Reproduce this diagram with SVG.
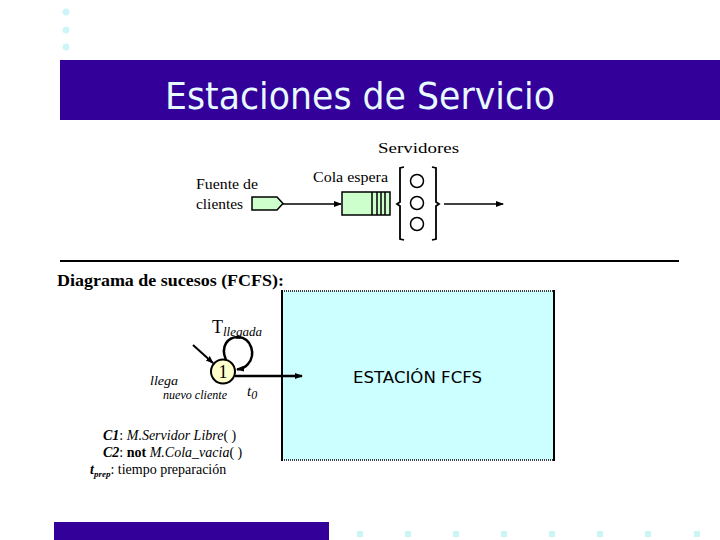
<svg xmlns="http://www.w3.org/2000/svg" width="720" height="540" viewBox="0 0 720 540">
<style>
.serif{font-family:"Liberation Serif","DejaVu Serif",serif;fill:#000}
.sans{font-family:"DejaVu Sans","Liberation Sans",sans-serif;fill:#000}
.ln{stroke:#000;fill:none}
.dot{fill:#CCF5F8}
</style>
<defs>
<marker id="ah" markerWidth="8" markerHeight="8" refX="7" refY="4" orient="auto" markerUnits="userSpaceOnUse">
<path d="M0,1 L8,4 L0,7 z" fill="#000"/>
</marker>
</defs>
<rect width="720" height="540" fill="#fff"/>
<g id="decor">
<circle class="dot" cx="66" cy="12" r="3.5"/>
<circle class="dot" cx="66" cy="30" r="3.5"/>
<circle class="dot" cx="66" cy="47" r="3.5"/>
<rect x="60" y="60" width="660" height="60" fill="#330099"/>
<text x="165" y="109" font-family="'DejaVu Sans','Liberation Sans',sans-serif" font-size="38" fill="#E6FAFF" textLength="390" lengthAdjust="spacingAndGlyphs">Estaciones de Servicio</text>
<rect x="54" y="522" width="275" height="18" fill="#330099"/>
<rect class="dot" x="357" y="531" width="6" height="6"/>
<rect class="dot" x="405" y="531" width="6" height="6"/>
<rect class="dot" x="453" y="531" width="6" height="6"/>
<rect class="dot" x="501" y="531" width="6" height="6"/>
<rect class="dot" x="549" y="531" width="6" height="6"/>
<rect class="dot" x="597" y="531" width="6" height="6"/>
<rect class="dot" x="645" y="531" width="6" height="6"/>
<rect class="dot" x="694" y="531" width="6" height="6"/>
</g>
<g id="fuente">
<text class="serif" x="196" y="189" font-size="15" textLength="62" lengthAdjust="spacingAndGlyphs">Fuente de</text>
<text class="serif" x="196" y="209" font-size="15" textLength="47" lengthAdjust="spacingAndGlyphs">clientes</text>
<path d="M252,197 L277,197 L283,203.5 L277,210 L252,210 z" fill="#CCFFCC" stroke="#000" stroke-width="1.5"/>
</g>
<g id="cola">
<text class="serif" x="313" y="182" font-size="15" textLength="75" lengthAdjust="spacingAndGlyphs">Cola espera</text>
<rect x="342" y="192" width="48" height="23" fill="#CCFFCC" stroke="#000" stroke-width="1.5"/>
<path class="ln" stroke-width="1.5" d="M372,192V215M377,192V215M381,192V215M385,192V215"/>
</g>
<g id="servidores">
<text class="serif" x="378" y="153" font-size="15" textLength="81" lengthAdjust="spacingAndGlyphs">Servidores</text>
<path class="ln" stroke-width="1.8" d="M404,167 L400,168 L400,202 L397,204 L400,206 L400,239 L404,240"/>
<path class="ln" stroke-width="1.8" d="M432,167 L436,168 L436,202 L439,204 L436,206 L436,239 L432,240"/>
<circle cx="417" cy="181" r="6.5" fill="#fff" stroke="#000" stroke-width="1.5"/>
<circle cx="417" cy="203" r="6.5" fill="#fff" stroke="#000" stroke-width="1.5"/>
<circle cx="417" cy="224" r="6.5" fill="#fff" stroke="#000" stroke-width="1.5"/>
</g>
<g id="separador">
<line x1="60" y1="261" x2="679" y2="261" stroke="#000" stroke-width="2"/>
<text class="serif" x="57" y="286" font-size="17" font-weight="bold" textLength="227" lengthAdjust="spacingAndGlyphs">Diagrama de sucesos (FCFS):</text>
</g>
<g id="estacion">
<rect x="282" y="291" width="272" height="169" fill="#CCFFFF"/>
<line x1="282" y1="291" x2="554" y2="291" stroke="#000" stroke-width="1.5" stroke-dasharray="1,1"/>
<line x1="282" y1="460" x2="554" y2="460" stroke="#000" stroke-width="1.5" stroke-dasharray="1,1"/>
<line x1="282" y1="290" x2="282" y2="461" stroke="#000" stroke-width="2"/>
<line x1="554" y1="290" x2="554" y2="461" stroke="#000" stroke-width="2"/>
<text class="sans" x="353" y="383" font-size="15" textLength="129" lengthAdjust="spacingAndGlyphs">ESTACIÓN FCFS</text>
</g>
<g id="nodo1">
<circle cx="223" cy="371.5" r="12" fill="#FFFFCC" stroke="#000" stroke-width="2"/>
<text class="serif" x="223" y="378" font-size="18" text-anchor="middle">1</text>
<text class="serif" x="212" y="333" font-size="18">T<tspan font-size="13" font-style="italic" dy="3">llegada</tspan></text>
<text class="serif" x="150" y="385" font-size="12" font-style="italic" textLength="28" lengthAdjust="spacingAndGlyphs">llega</text>
<text class="serif" x="163" y="399" font-size="12" font-style="italic" textLength="64" lengthAdjust="spacingAndGlyphs">nuevo cliente</text>
<text class="serif" x="247" y="396" font-size="15" font-style="italic">t<tspan font-size="12" dy="3">0</tspan></text>
</g>
<g id="condiciones">
<text class="serif" x="103" y="440" font-size="14"><tspan font-weight="bold" font-style="italic">C1</tspan>: <tspan font-style="italic">M.Servidor Libre</tspan>( )</text>
<text class="serif" x="103" y="457" font-size="14"><tspan font-weight="bold" font-style="italic">C2</tspan>: <tspan font-weight="bold">not</tspan> <tspan font-style="italic">M.Cola_vacia</tspan>( )</text>
<text class="serif" x="90" y="474" font-size="14"><tspan font-weight="bold" font-style="italic">t</tspan><tspan font-weight="bold" font-style="italic" font-size="9" dy="3">prep</tspan><tspan dy="-3">: tiempo preparación</tspan></text>
</g>
<g id="conectores">
<line class="ln" stroke-width="1.5" x1="283" y1="204" x2="341" y2="204" marker-end="url(#ah)"/>
<line class="ln" stroke-width="1.5" x1="444" y1="204" x2="503" y2="204" marker-end="url(#ah)"/>
<line class="ln" stroke-width="2" x1="193" y1="345" x2="213" y2="363" marker-end="url(#ah)"/>
<path class="ln" stroke-width="2.5" d="M226,360 C220,346 228,337 238,337 C252,338 256,355 248,364 C245,368 241,369 237,369.5" marker-end="url(#ah)"/>
<line class="ln" stroke-width="2.5" x1="235" y1="376" x2="302" y2="376" marker-end="url(#ah)"/>
</g>
</svg>
